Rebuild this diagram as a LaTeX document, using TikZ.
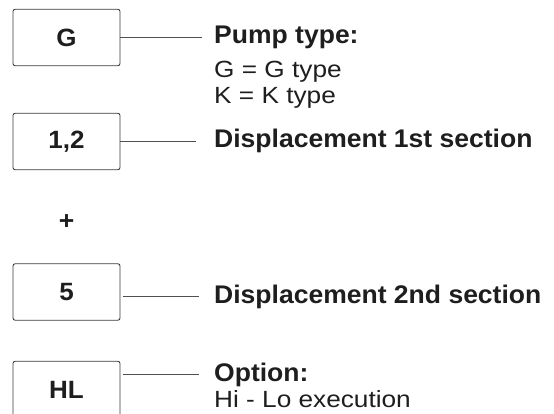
\documentclass[tikz,border=0pt]{standalone}
\usepackage{fontspec}
\setmainfont{Liberation Sans}
\newfontfamily\titlefont[FakeStretch=1.04]{Liberation Sans}
\newfontfamily\bodyfont[FakeStretch=1.12]{Liberation Sans}
\definecolor{txtcol}{HTML}{1E1E1E}
\definecolor{boxcol}{HTML}{3C3C3C}
\definecolor{linecol}{HTML}{505050}
\begin{document}
\begin{tikzpicture}[x=1pt,y=-1pt,
  codebox/.style={draw=boxcol, line width=0.9pt, rounded corners=2.2pt,
    minimum width=107pt, minimum height=56.5pt, inner sep=0pt, text=txtcol,
    font=\titlefont\bfseries\fontsize{25}{30}\selectfont},
  title/.style={anchor=base west, inner sep=0pt, text=txtcol,
    font=\titlefont\bfseries\fontsize{25.5}{30}\selectfont},
  body/.style={anchor=base west, inner sep=0pt, text=txtcol,
    font=\bodyfont\fontsize{23.4}{28}\selectfont},
  link/.style={draw=linecol, line width=0.9pt}]
\useasboundingbox (0,0) rectangle (554,414);
\clip (0,0) rectangle (554,414);
% boxes
\node[codebox] (bG)  at (66.5,37.5)  {G};
\node[codebox] (b12) at (66.5,141.5) {1,2};
\node[title, anchor=center] (plus) at (66.5,222.5) {+};
\node[codebox] (b5)  at (66.5,292)   {5};
\node[codebox] (bHL) at (66.5,389.5) {HL};
% texts
\node[title] (tPump) at (214,44) {Pump type:};
\node[body]  (tG)    at (214,77.5) {G = G type};
\node[body]  (tK)    at (214,103.5) {K = K type};
\node[title] (tD1)   at (214,148) {Displacement 1st section};
\node[title] (tD2)   at (214,303) {Displacement 2nd section};
\node[title] (tOpt)  at (214,381) {Option:};
\node[body]  (tHL)   at (214,407) {Hi - Lo execution};
% connectors
\draw[link, shorten >=12pt] (bG.east |- tPump.west) -- (tPump.west);
\draw[link, shorten >=18pt] (b12.east |- tD1.west) -- (tD1.west);
\draw[link, shorten <=2.5pt, shorten >=15pt] (b5.east |- tD2.west) -- (tD2.west);
\draw[link, shorten <=2.5pt, shorten >=15pt] (bHL.east |- tOpt.west) -- (tOpt.west);
\end{tikzpicture}
\end{document}
